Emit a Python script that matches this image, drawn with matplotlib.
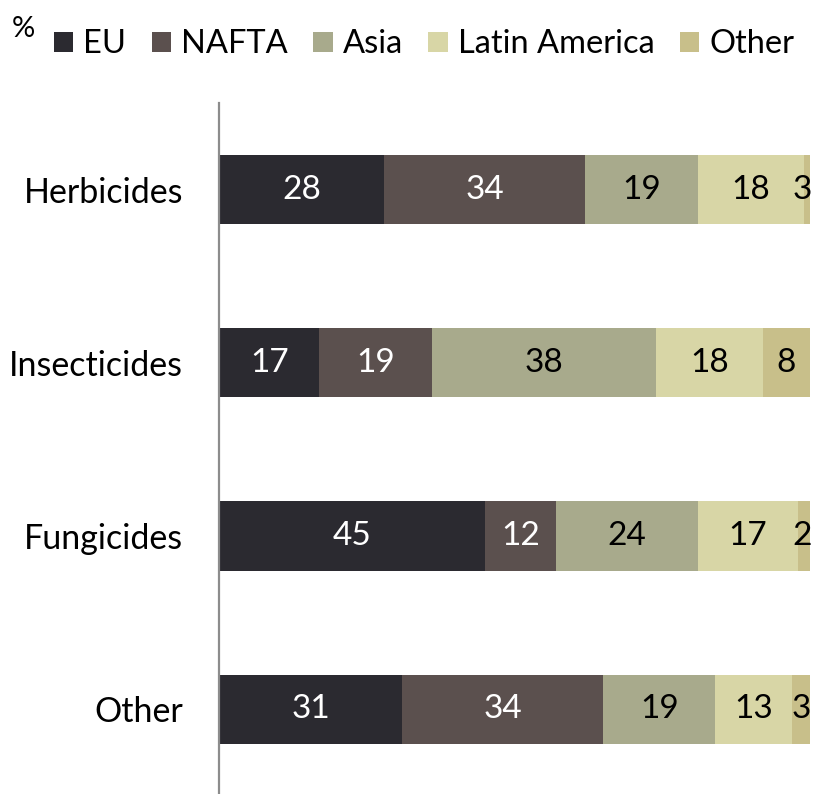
import matplotlib.pyplot as plt
import numpy as np

plt.rcParams['font.family'] = ['Lato', 'DejaVu Sans']

# Доли регионов по группам продуктов, %
categories = ['Herbicides', 'Insecticides', 'Fungicides', 'Other']
regions = ['EU', 'NAFTA', 'Asia', 'Latin America', 'Other']
eu = [28, 17, 45, 31]
nafta = [34, 19, 12, 34]
asia = [19, 38, 24, 19]
latam = [18, 18, 17, 13]
other = [3, 8, 2, 3]

series = [eu, nafta, asia, latam, other]
colors = ['#2b2a30', '#5b504e', '#a8aa8c', '#d8d6a6', '#c8bf8a']
text_colors = ['white', 'white', 'black', 'black', 'black']

fig = plt.figure(figsize=(8.15, 7.94), dpi=100)
ax = fig.add_axes([0.2687, 0.0, 0.7252, 0.8703])

y = np.arange(len(categories))
left = np.zeros(len(categories))
for name, vals, col, tcol in zip(regions, series, colors, text_colors):
    vals = np.array(vals, dtype=float)
    ax.barh(y, vals, left=left, height=0.4, color=col, label=name)
    for yi, l, v in zip(y, left, vals):
        # подпись по центру видимой части сегмента, не заходя за край
        right = min(l + v, 100)
        xc = min((l + right) / 2, 98.7)
        ax.text(xc, yi, f'{int(v)}', ha='center', va='center',
                color=tcol, fontsize=24)
    left += vals

ax.set_xlim(0, 100)
ax.set_ylim(3.49, -0.5)
ax.set_yticks(y)
ax.set_yticklabels(categories, fontsize=24.5)
ax.tick_params(axis='y', length=0, pad=26)
ax.set_xticks([])
for side in ['top', 'right', 'bottom']:
    ax.spines[side].set_visible(False)
ax.spines['left'].set_color('#8c8c8c')
ax.spines['left'].set_linewidth(1.6)

fig.legend(loc='center left', bbox_to_anchor=(0.066, 0.944), ncol=5, frameon=False,
           fontsize=23.5, handlelength=0.6, handleheight=0.6, handletextpad=0.3,
           columnspacing=0.78, borderaxespad=0, borderpad=0)
fig.text(0.014, 0.964, '%', fontsize=21, va='center', ha='left')

fig.savefig('out.png', dpi=100)
